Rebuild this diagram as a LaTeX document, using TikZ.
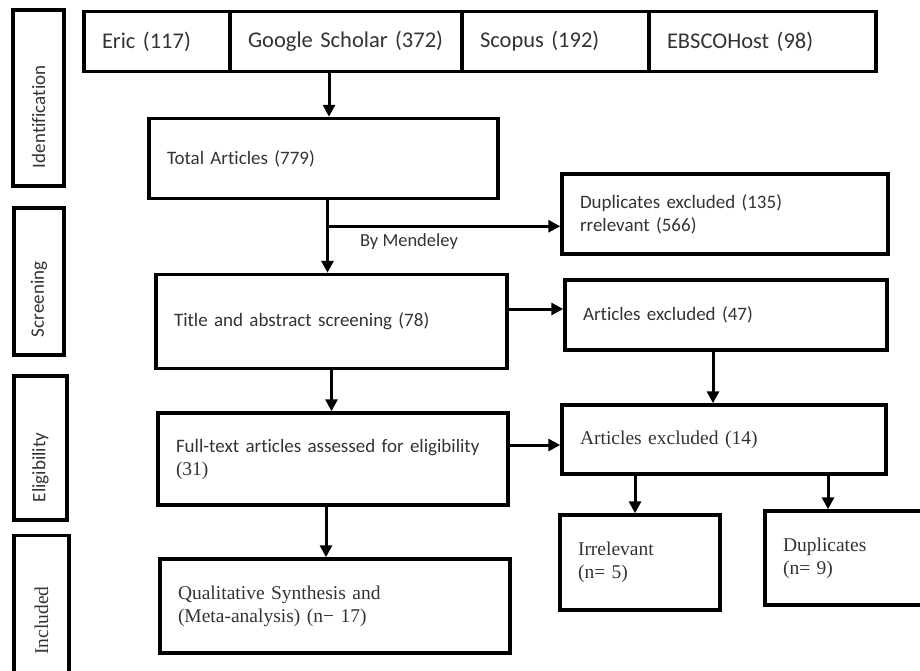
\documentclass[tikz,border=0pt]{standalone}
\usepackage{fontspec}
\setmainfont{Liberation Serif}
\newfontfamily\prismSans[Ligatures=NoCommon]{Carlito}
\usetikzlibrary{positioning,calc,arrows.meta}
\definecolor{prismText}{gray}{0.2}
\tikzset{
   prismSource/.style = {
         rectangle,
         draw,
         line width = 3.5pt,
         align = left,
         text width = #1,
         inner xsep = 18pt,
         inner ysep = 0pt,
         outer sep = 0pt,
         minimum height = 60pt,
         text = prismText,
         font = \prismSans\fontsize{22.5}{27}\selectfont,
      },
   prismBox/.style = {
         rectangle,
         draw,
         line width = 3.5pt,
         align = left,
         text width = #1,
         inner xsep = 18pt,
         inner ysep = 0pt,
         text = prismText,
         font = \prismSans\fontsize{19}{23}\selectfont,
      },
   prismPhase/.style = {
         rectangle,
         draw,
         rotate = 90,
         line width = 3.5pt,
         align = left,
         text width = #1,
         inner xsep = 18pt,
         inner ysep = 0pt,
         text = prismText,
         font = \prismSans\fontsize{19}{23}\selectfont,
      },
   prismSerif/.style = {
         font = \rmfamily\fontsize{19.5}{23}\selectfont,
      },
   prismLine/.style = {
         draw,
         line width = 3pt,
         -{Triangle[length=12pt,width=12pt]},
      },
}

\begin{document}
\begin{tikzpicture}[x=1pt, y=-1pt]
\useasboundingbox (0,0) rectangle (920,670);
\clip (0,0) rectangle (920,670);

% Phases
\node [prismPhase=140, minimum height=51pt] at (38.5,98)
	(identification){Identification};
\node [prismPhase=111, minimum height=50pt] at (39,281.5)
	(screening){Screening};
\node [prismPhase=108, minimum height=53pt] at (40.5,448)
	(eligibility){Eligibility};
\node [prismPhase=101, minimum height=55pt, prismSerif] at (41.5,604)
	(included){Included};

% Databases
\node [prismSource=110, anchor=west] at (84,41.5) (eric){\mbox{Eric (117)}};
\node [prismSource=196, right=0pt of eric] (scholar){\mbox{Google Scholar (372)}};
\node [prismSource=151, right=0pt of scholar] (scopus){\mbox{Scopus (192)}};
\node [prismSource=191, right=0pt of scopus] (ebsco){\mbox{EBSCOHost (98)}};

% Flow
\node [prismBox=313, minimum height=80pt] at (323.5,158.5)
	(total){Total Articles (779)};
\node [prismBox=290, minimum height=80pt] at (725,214)
	(dupl-excl){Duplicates excluded (135)\\rrelevant (566)};
\node [prismBox=315, minimum height=94pt] at (331.5,321.5)
	(title-abs){Title and abstract screening (78)};
\node [prismBox=286, minimum height=70pt] at (726,315)
	(excl-47){Articles excluded (47)};
\node [prismBox=314, minimum height=92pt] at (333,459)
	(full-text){Full-text articles assessed for eligibility\\{\rmfamily\fontsize{19.5}{23}\selectfont(31)}};
\node [prismBox=288, minimum height=69pt, prismSerif] at (724,439.5)
	(excl-14){Articles excluded (14)};
\node [prismBox=124, minimum height=95pt, prismSerif] at (640,562.5)
	(irrelevant){Irrelevant\\(n= 5)};
\node [prismBox=130, minimum height=94pt, prismSerif] at (848,558)
	(duplicates){Duplicates\\(n= 9)};
\node [prismBox=314, minimum height=94pt, prismSerif] at (335,606)
	(synthesis){Qualitative Synthesis and\\(Meta-analysis) (n− 17)};

% Joins
\coordinate (split) at ($(total.south)+(4,26)$);

\path [prismLine] ([xshift=5.5pt]total.north |- scholar.south) -- ([xshift=5.5pt]total.north);
\path [prismLine] (total.south -| split) -- (title-abs.north -| split);
\path [prismLine] (split) -- node [below=3pt, pos=0.35, text=prismText, font=\prismSans\fontsize{18.5}{22}\selectfont] {By Mendeley} (split -| dupl-excl.west);
\path [prismLine] ([yshift=6pt]excl-47.west -| title-abs.east) -- ([yshift=6pt]excl-47.west);
\path [prismLine] ([xshift=-13pt]excl-47.south) -- ([xshift=-13pt]excl-47.south |- excl-14.north);
\path [prismLine] (title-abs.south) -- (title-abs.south |- full-text.north);
\path [prismLine] ([yshift=-5.5pt]excl-14.west -| full-text.east) -- ([yshift=-5.5pt]excl-14.west);
\path [prismLine] ([xshift=-5pt]irrelevant.north |- excl-14.south) -- ([xshift=-5pt]irrelevant.north);
\path [prismLine] ([xshift=-20pt]duplicates.north |- excl-14.south) -- ([xshift=-20pt]duplicates.north);
\path [prismLine] ([xshift=-9pt]synthesis.north |- full-text.south) -- ([xshift=-9pt]synthesis.north);

\end{tikzpicture}
\end{document}
